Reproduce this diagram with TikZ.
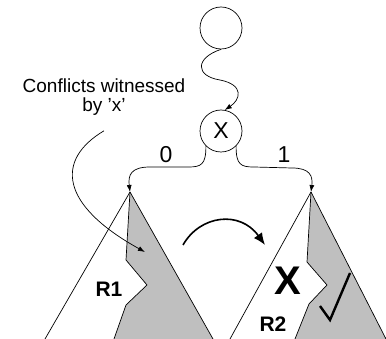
\documentclass[tikz,border=0pt]{standalone}
\usepackage{fontspec}
\setmainfont{Liberation Sans}
\usetikzlibrary{arrows.meta}

\begin{document}
\begin{tikzpicture}[x=1pt, y=-1pt, line width=0.7pt,
    state/.style={draw, circle, minimum size=42pt, inner sep=0pt, font=\fontsize{23}{24}\selectfont},
    edge/.style={-{Latex[length=7pt,width=5pt]}},
    lbl/.style={font=\fontsize{23}{24}\selectfont},
    region/.style={font=\bfseries\fontsize{21}{24}\selectfont},
    shade/.style={fill=black!25, draw=none},
]
\useasboundingbox (0,0) rectangle (386,339);

% the two nodes at the top
\node[state] (root) at (221,28) {};
\node[state] (xvar) at (221,131) {X};

% apex of each subtree
\coordinate (lapex) at (130,192);
\coordinate (rapex) at (311,192);

% left subtree R1
\fill[shade] (lapex) -- (126,260) -- (147,285) -- (126,305) -- (114,339) -- (213,339) -- cycle;
\draw (lapex) -- (45,339);
\draw (lapex) -- (126,260) -- (147,285) -- (126,305) -- (114,339);
\draw (lapex) -- (213,339);

% right subtree R2
\fill[shade] (rapex) -- (307,262) -- (327,285) -- (309,304) -- (295,339) -- (386,339) -- cycle;
\draw (rapex) -- (230,339);
\draw (rapex) -- (307,262) -- (327,285) -- (309,304) -- (295,339);
\draw (rapex) -- (386,339);

% path from the root down to x
\draw[edge] (root.south) .. controls (195,58) and (195,76) .. (220,80)
    .. controls (245,85) and (240,100) .. (xvar.80);

% the two branches
\draw[edge] (xvar.225) .. controls (206,165) and (201,167) .. (188,167) -- (150,167)
    .. controls (131,167) and (128,175) .. (lapex);
\draw[edge] (xvar.-45) .. controls (236,165) and (241,167) .. (254,167) -- (292,168)
    .. controls (310,168) and (313,176) .. (rapex);
\node[lbl] (zero) at (166,155) {0};
\node[lbl] (one) at (284,155) {1};

% note on the conflicts
\node[align=center, font=\fontsize{19}{18.5}\selectfont] (conf) at (104,97) {Conflicts witnessed\\by 'x'};
\coordinate (witness) at (145,252);
\draw[edge] ([yshift=-12pt]conf.south) .. controls (55,160) and (60,205) .. (witness);

% move from R1 to R2
\coordinate (movefrom) at (183,245);
\coordinate (moveto) at (265,245);
\draw[line width=1.6pt, -{Latex[length=12pt,width=10pt]}] (movefrom) .. controls (200,215) and (240,210) .. (moveto);

% region labels and marks
\node[region] (r1) at (109,289) {R1};
\node[region] (r2) at (273,324) {R2};
\node[font=\bfseries\fontsize{40}{40}\selectfont] (bad) at (288,281) {X};
\draw[line width=2.4pt] (320,306) -- (330,320) -- (350,273);
\end{tikzpicture}
\end{document}
